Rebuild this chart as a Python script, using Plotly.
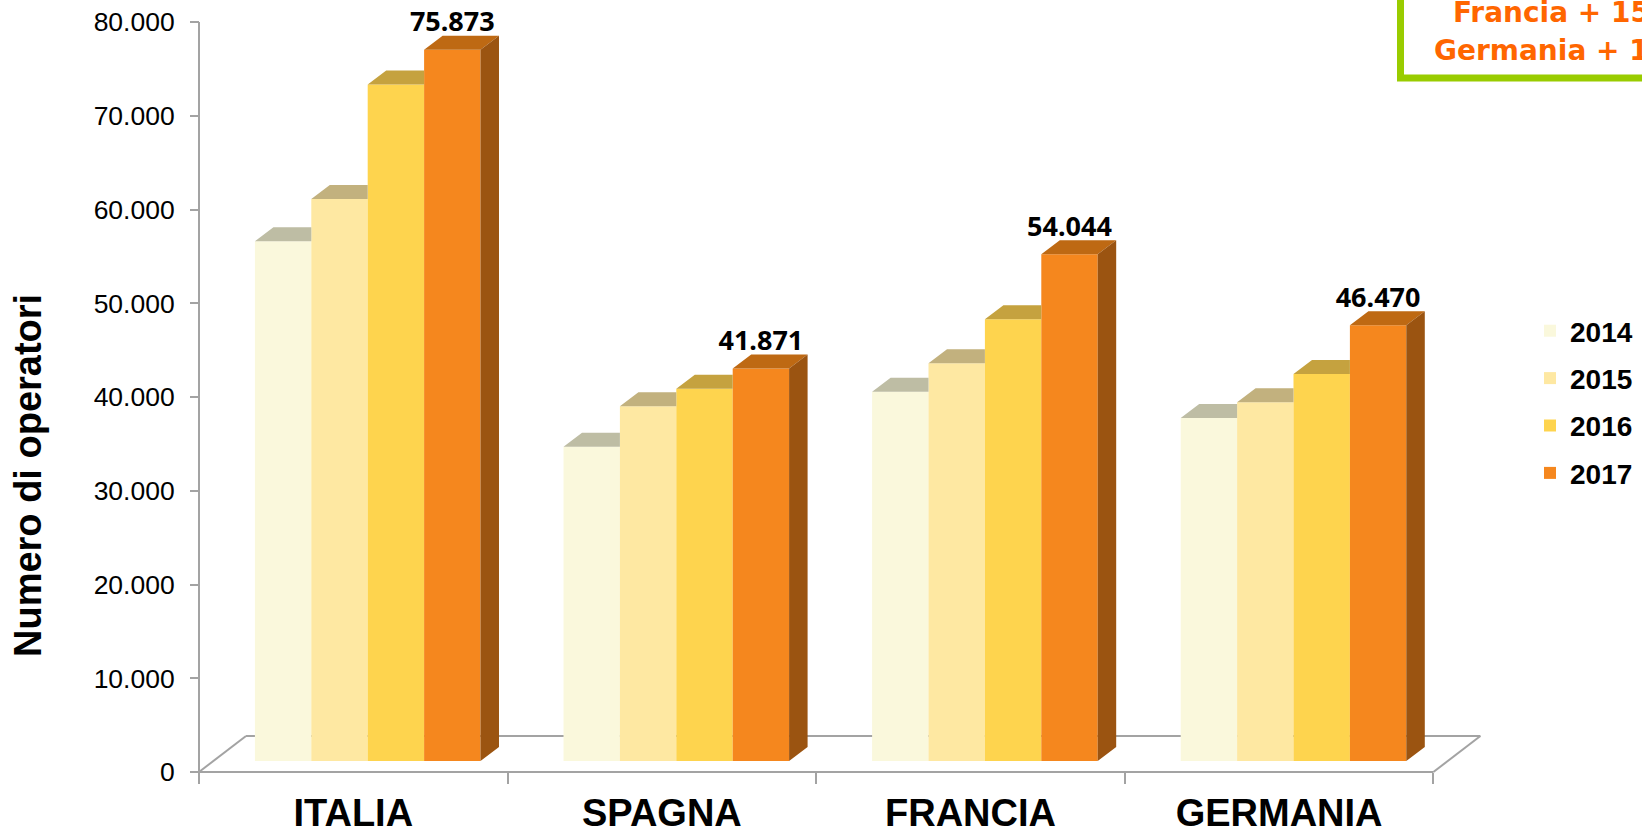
import plotly.graph_objects as go

# ---------------- data ----------------
countries = ["ITALIA", "SPAGNA", "FRANCIA", "GERMANIA"]
years = ["2014", "2015", "2016", "2017"]
v2014 = [55450, 33520, 39390, 36580]
v2015 = [59950, 37830, 42420, 38260]
v2016 = [72150, 39710, 47110, 41280]
v2017 = [75873, 41871, 54044, 46470]
y_tick_values = [0, 10000, 20000, 30000, 40000, 50000, 60000, 70000, 80000]
box_lines = ["Francia + 15%", "Germania + 11%"]
y_title = "Numero di operatori"

series = [v2014, v2015, v2016, v2017]

# ---------------- styles ----------------
front_colors = ["#FAF8DC", "#FEE8A2", "#FED44E", "#F5871E"]
top_colors = ["#BEBDA4", "#C2B17E", "#C5A23F", "#BE6913"]
side_color = "#9B5411"
grid_grey = "#A3A3A3"
W, H = 1642, 833
ML, MR, MT, MB = 195, 147, 18, 57
PAD = 4
PX_PER_X = 308.6
Y_MAX = 80000
PX_PER_Y = 750 / Y_MAX

PW = W - ML - MR
PH = H - MT - MB
x_lo = -0.5 - PAD / PX_PER_X
x_hi = x_lo + PW / PX_PER_X
y_lo = -PAD / PX_PER_Y
y_hi = Y_MAX + PAD / PX_PER_Y


def ux(px):
    return px / PX_PER_X


def uy(px):
    return px / PX_PER_Y


def paper_x(px):
    return (px - ML) / PW


def paper_y(px):
    return (H - MB - px) / PH


floor_dx, floor_dy = ux(47), uy(36)      # depth of the floor
front_dx, front_dy = ux(14.4), uy(11)    # bars sit inside the floor
depth_dx, depth_dy = ux(18.5), uy(14)    # depth of each bar
group_w = 0.731
n = len(years)
bw = group_w / n
xs = list(range(len(countries)))
x_first, x_last = -0.5, len(countries) - 0.5

fig = go.Figure()

# front faces: the bars
for j, (yr, vals) in enumerate(zip(years, series)):
    fig.add_trace(go.Bar(
        x=xs, y=vals, name=yr, legendgroup=yr,
        marker=dict(color=front_colors[j], line=dict(width=0)),
        xaxis="x2", yaxis="y2", hoverinfo="skip",
    ))

# top faces
for j, vals in enumerate(series):
    px_, py_ = [], []
    for i, v in enumerate(vals):
        x0 = xs[i] - group_w / 2 + j * bw
        x1 = x0 + bw
        nxt = series[j + 1][i] if j + 1 < n else None
        if nxt is not None and nxt >= v + depth_dy:
            px_ += [x0, x1, x1, x0 + depth_dx, x0, None]
            py_ += [v, v, v + depth_dy, v + depth_dy, v, None]
        else:
            px_ += [x0, x1, x1 + depth_dx, x0 + depth_dx, x0, None]
            py_ += [v, v, v + depth_dy, v + depth_dy, v, None]
    fig.add_trace(go.Scatter(
        x=px_, y=py_, mode="lines", fill="toself", fillcolor=top_colors[j],
        line=dict(width=0, color=top_colors[j]), showlegend=False,
        hoverinfo="skip", xaxis="x2", yaxis="y2",
    ))

# side faces of last series
sx, sy = [], []
for i, v in enumerate(series[-1]):
    x1 = xs[i] - group_w / 2 + n * bw
    sx += [x1, x1 + depth_dx, x1 + depth_dx, x1, x1, None]
    sy += [0, depth_dy, v + depth_dy, v, 0, None]
fig.add_trace(go.Scatter(
    x=sx, y=sy, mode="lines", fill="toself", fillcolor=side_color,
    line=dict(width=0, color=side_color), showlegend=False,
    hoverinfo="skip", xaxis="x2", yaxis="y2",
))

# data labels on the last series
lab_x = [xs[i] - group_w / 2 + (n - 0.5) * bw for i in xs]
lab_y = [v + depth_dy - uy(2) for v in series[-1]]
lab_t = [f"{v:,}".replace(",", ".") for v in series[-1]]
fig.add_trace(go.Scatter(
    x=lab_x, y=lab_y, text=lab_t, mode="text", textposition="top center",
    textfont=dict(family="Noto Sans", size=27, color="black", weight="bold"),
    cliponaxis=False, showlegend=False, hoverinfo="skip",
    xaxis="x2", yaxis="y2",
))

# floor and vertical axis lines
line_style = dict(color=grid_grey, width=2)
shapes = [
    dict(type="line", xref="x", yref="y", x0=x_first, y0=0, x1=x_last, y1=0, line=line_style, layer="below"),
    dict(type="line", xref="x", yref="y", x0=x_first, y0=0, x1=x_first + floor_dx, y1=floor_dy, line=line_style, layer="below"),
    dict(type="line", xref="x", yref="y", x0=x_first + floor_dx, y0=floor_dy, x1=x_last + floor_dx, y1=floor_dy, line=line_style, layer="below"),
    dict(type="line", xref="x", yref="y", x0=x_last, y0=0, x1=x_last + floor_dx, y1=floor_dy, line=line_style, layer="below"),
    dict(type="line", xref="x", yref="y", x0=x_first, y0=0, x1=x_first, y1=Y_MAX, line=line_style, layer="below"),
    # highlight box (top right)
    dict(type="rect", xref="paper", yref="paper", x0=paper_x(1400.5), y0=paper_y(78),
         x1=1.3, y1=1.3, line=dict(color="#99CC00", width=7), fillcolor="white", layer="above"),
]

annotations = [
    dict(text=y_title, xref="paper", yref="paper", x=paper_x(28), y=paper_y(476),
         textangle=-90, showarrow=False, xanchor="center", yanchor="middle",
         font=dict(family="Liberation Sans, Arial", size=38, color="black", weight="bold")),
]
for txt, cy in zip(box_lines, [12, 50]):
    annotations.append(dict(
        text=txt, xref="paper", yref="paper", x=paper_x(1565), y=paper_y(cy),
        showarrow=False, xanchor="center", yanchor="middle",
        font=dict(family="DejaVu Sans", size=28, color="#FF6600", weight="bold")))

fig.update_layout(
    width=W, height=H,
    margin=dict(l=ML, r=MR, t=MT, b=MB, pad=0, autoexpand=False),
    paper_bgcolor="white", plot_bgcolor="rgba(0,0,0,0)",
    barmode="group", bargap=1 - group_w, bargroupgap=0,
    separators=",.",
    showlegend=True,
    legend=dict(x=paper_x(1530), y=paper_y(306), xanchor="left", yanchor="top",
                font=dict(family="Liberation Sans, Arial", size=28, color="black", weight="bold"),
                tracegroupgap=8, bgcolor="rgba(0,0,0,0)", itemclick=False),
    xaxis=dict(range=[x_lo, x_hi], anchor="free", position=(0 - y_lo) / (y_hi - y_lo),
               automargin=False,
               tickmode="array", tickvals=xs, ticktext=countries, ticks="",
               showline=False, showgrid=False, zeroline=False,
               tickfont=dict(family="Liberation Sans, Arial", size=38, color="black", weight="bold"),
               ticklabelstandoff=15,
               minor=dict(tickmode="array", tickvals=[k - 0.5 for k in range(len(countries) + 1)],
                          ticks="outside", ticklen=11, tickwidth=2, tickcolor=grid_grey, showgrid=False)),
    yaxis=dict(range=[y_lo, y_hi], anchor="free", position=(-0.5 - x_lo) / (x_hi - x_lo),
               automargin=False,
               tickmode="array", tickvals=y_tick_values, tickformat=",d",
               ticks="outside", ticklen=9, tickwidth=2, tickcolor=grid_grey,
               showline=False, showgrid=False, zeroline=False,
               tickfont=dict(family="Liberation Sans, Arial", size=26.5, color="black"),
               ticklabelstandoff=10),
    xaxis2=dict(range=[x_lo - front_dx, x_hi - front_dx], overlaying="x", visible=False, anchor="y2"),
    yaxis2=dict(range=[y_lo - front_dy, y_hi - front_dy], overlaying="y", visible=False, anchor="x2"),
    shapes=shapes, annotations=annotations,
)

fig.write_html("out.html", config={"displayModeBar": False},
               post_script="document.body.style.margin='0';document.body.style.overflow='hidden';")
